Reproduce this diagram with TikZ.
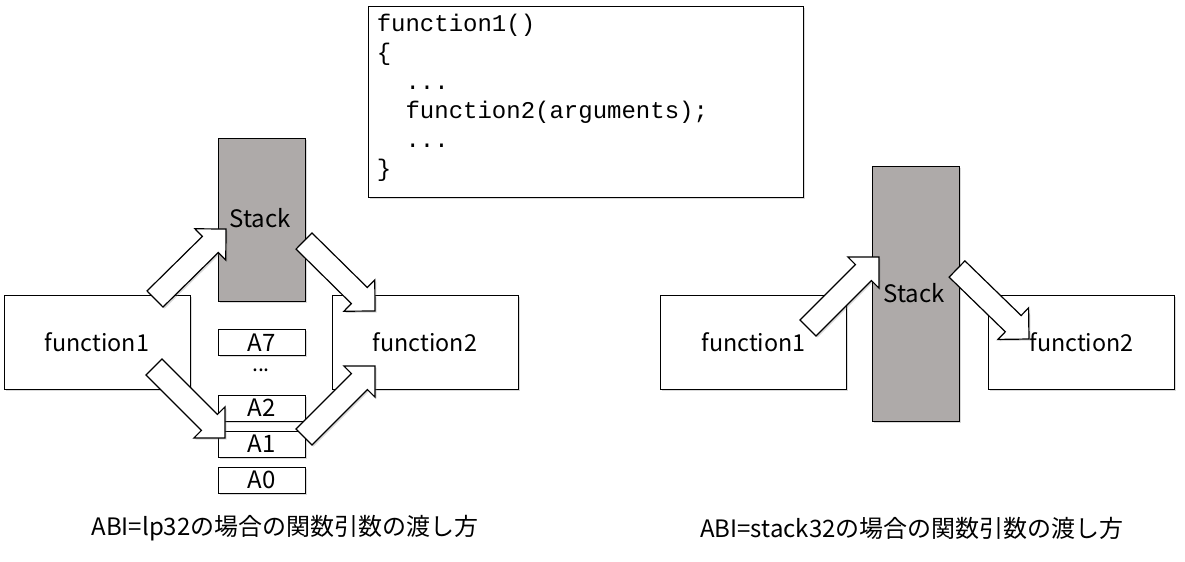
\documentclass[tikz,border=0pt]{standalone}
\usepackage{fontspec}
\setmainfont{Noto Sans CJK JP}
\setmonofont{Liberation Mono}
\usetikzlibrary{calc,shadows}

\definecolor{stackgray}{RGB}{174,170,169}

\tikzset{
  shade/.style={drop shadow={shadow xshift=1.2pt,shadow yshift=-1.2pt,opacity=0.3}},
  funcbox/.style={draw,line width=0.75pt,fill=white,shade,minimum width=139.5pt,minimum height=70.5pt,font=\fontsize{17.5}{20}\selectfont},
  stackbox/.style={draw,line width=0.75pt,fill=stackgray,shade,minimum width=65.25pt,font=\fontsize{18}{20}\selectfont},
  argbox/.style={draw,line width=0.75pt,fill=white,shade,minimum width=65.25pt,minimum height=19.5pt,inner sep=0pt,font=\fontsize{18}{20}\selectfont},
  blockarr/.style={draw,line width=0.9pt,fill=white,shade},
  caption/.style={font=\fontsize{18}{20}\selectfont}
}

% block arrow from tail to tip
\newcommand{\blockarrow}[2]{%
  \coordinate (hb) at ($(#2)!16.5pt!(#1)$);
  \path[blockarr] ($(#1)!8.5pt!90:(#2)$) -- ($(hb)!8.5pt!-90:(#1)$) -- ($(hb)!16.5pt!-90:(#1)$) -- (#2)
    -- ($(hb)!16.5pt!90:(#1)$) -- ($(hb)!8.5pt!90:(#1)$) -- ($(#1)!8.5pt!-90:(#2)$) -- cycle;}

\begin{document}
\begin{tikzpicture}[x=0.75pt,y=-0.75pt]
\useasboundingbox (0,0) rectangle (1185,561);

% code
\node[draw,line width=0.75pt,fill=white,shade,minimum width=326.25pt,minimum height=143.25pt] (code) at (585.5,101.5) {};
\node[anchor=north west,inner sep=0pt,align=left,font=\ttfamily\fontsize{18}{21.75}\selectfont] (codetxt) at ($(code.north west)+(9,8)$)
  {function1()\\ \{\\ \ \ ...\\ \ \ function2(arguments);\\ \ \ ...\\ \}};

% ABI=lp32
\node[funcbox] (lf1) at (97,342) {function1};
\node[funcbox] (lf2) at (425,342) {function2};
\node[stackbox,minimum height=122.25pt] (lstack) at (261.5,219.5) {};
\node[font=\fontsize{18}{20}\selectfont] (lstacklbl) at (260,218) {Stack};
\node[argbox] (a7) at (261.5,342.5) {A7};
\node[font=\fontsize{16}{18}\selectfont,inner sep=0pt] (adots) at (261,370) {...};
\node[argbox] (a2) at (261.5,408) {A2};
\node[argbox] (a1) at (261.5,444) {A1};
\node[argbox] (a0) at (261.5,480) {A0};
\node[caption] (lcap) at (285,528) {ABI=lp32の場合の関数引数の渡し方};

\coordinate (t1) at (155,299); \coordinate (h1) at (226,229);
\coordinate (t2) at (304,241); \coordinate (h2) at (375,311);
\coordinate (t3) at (154,367); \coordinate (h3) at (225,438);
\coordinate (t4) at (304,437); \coordinate (h4) at (375,366);
\blockarrow{t1}{h1}
\blockarrow{t2}{h2}
\blockarrow{t3}{h3}
\blockarrow{t4}{h4}

% ABI=stack32
\node[funcbox] (rf1) at (753.5,342) {function1};
\node[funcbox] (rf2) at (1081.5,342) {function2};
\node[stackbox,minimum height=191.25pt] (rstack) at (915.5,293.5) {};
\node[font=\fontsize{18}{20}\selectfont] (rstacklbl) at (914,293) {Stack};
\node[caption] (rcap) at (912,528) {ABI=stack32の場合の関数引数の渡し方};

\coordinate (t5) at (808,328); \coordinate (h5) at (879,257);
\coordinate (t6) at (957,269); \coordinate (h6) at (1029,339);
\blockarrow{t5}{h5}
\blockarrow{t6}{h6}
\end{tikzpicture}
\end{document}
